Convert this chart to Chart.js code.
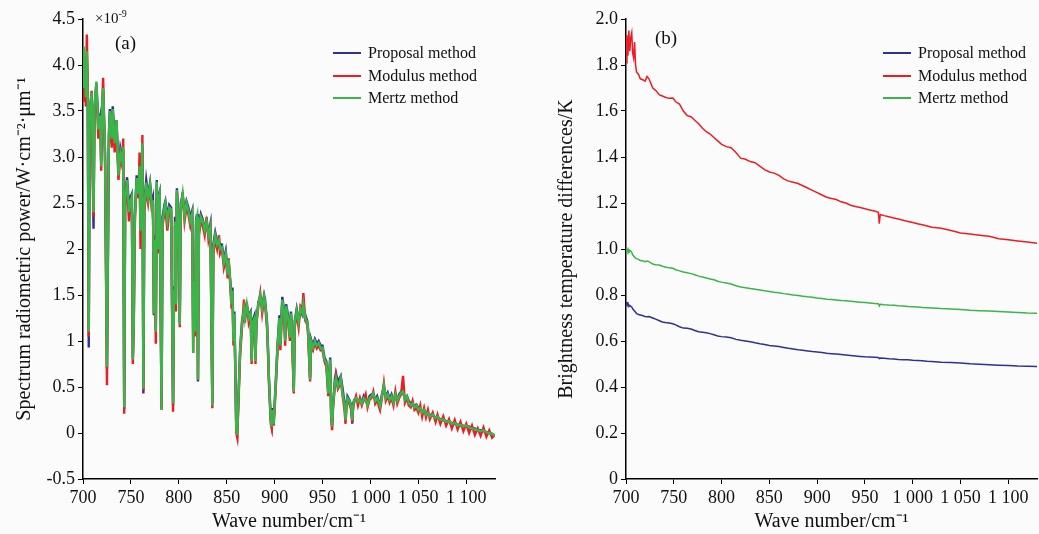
<!DOCTYPE html>
<html>
<head>
<meta charset="utf-8">
<script src="https://cdn.jsdelivr.net/npm/chart.js@4.4.1/dist/chart.umd.min.js"></script>
<style>
    body { margin: 0; background: #fbfbfb; font-family: "Liberation Serif", "Times New Roman", serif; color: #111; }
    #page { position: relative; width: 1039px; height: 534px; overflow: hidden; }
    canvas { position: absolute; top: 0; }
    #spectrum-chart { left: 0; }
    #difference-chart { left: 540px; }
    .note { position: absolute; white-space: nowrap; line-height: 1; }
    .legend { position: absolute; font-size: 16px; }
    .legend .row { display: flex; align-items: center; height: 22.5px; }
    .legend .swatch { width: 28px; height: 2px; margin-right: 7px; }
</style>
</head>
<body>
<div id="page">
    <canvas id="spectrum-chart" width="540" height="534"></canvas>
    <canvas id="difference-chart" width="499" height="534"></canvas>

    <div class="note" style="left:95px; top:9px; font-size:15px;">×10<sup style="font-size:10px; vertical-align:6px;">-9</sup></div>
    <div class="note" style="left:115px; top:33px; font-size:19px;">(a)</div>
    <div class="note" style="left:655px; top:28px; font-size:19px;">(b)</div>

    <div class="legend" style="left:333px; top:42px;">
        <div class="row"><span class="swatch" style="background:#2e3192"></span>Proposal method</div>
        <div class="row"><span class="swatch" style="background:#ed1c24"></span>Modulus method</div>
        <div class="row"><span class="swatch" style="background:#39b54a"></span>Mertz method</div>
    </div>
    <div class="legend" style="left:883px; top:42px;">
        <div class="row"><span class="swatch" style="background:#2e3192"></span>Proposal method</div>
        <div class="row"><span class="swatch" style="background:#ed1c24"></span>Modulus method</div>
        <div class="row"><span class="swatch" style="background:#39b54a"></span>Mertz method</div>
    </div>
</div>
<script>
// (a) spectrum, values in units of 1e-9
const spectrumWave = [
    700, 701, 702, 703, 704, 705, 706, 707, 709, 711,
    712, 714, 716, 718, 719, 720, 721, 723, 725, 727,
    728, 730, 731, 733, 735, 737, 739, 741, 742, 743,
    744, 746, 748, 749, 751, 752, 753, 754, 756, 758,
    759, 760, 761, 762, 763, 764, 766, 768, 770, 772,
    773, 774, 775, 776, 777, 778, 779, 780, 782, 783,
    785, 786, 788, 790, 792, 794, 795, 796, 797, 798,
    800, 801, 802, 804, 806, 808, 810, 812, 814, 815,
    816, 817, 818, 819, 820, 821, 823, 825, 827, 829,
    831, 833, 835, 836, 838, 840, 842, 843, 845, 847,
    849, 851, 852, 854, 855, 856, 857, 858, 860, 861,
    862, 864, 866, 868, 869, 871, 873, 875, 876, 877,
    879, 880, 881, 883, 885, 887, 889, 890, 892, 893,
    894, 896, 897, 898, 899, 901, 903, 905, 906, 908,
    910, 911, 912, 914, 916, 917, 918, 920, 921, 923,
    925, 927, 929, 930, 932, 934, 935, 937, 938, 940,
    942, 944, 946, 948, 950, 952, 954, 956, 957, 958,
    959, 960, 961, 963, 964, 966, 967, 969, 971, 973,
    974, 975, 976, 978, 980, 981, 982, 983, 985, 987,
    989, 991, 993, 995, 997, 999, 1001, 1003, 1005, 1007,
    1009, 1010, 1012, 1014, 1016, 1018, 1020, 1022, 1024, 1026,
    1028, 1030, 1032, 1034, 1036, 1038, 1040, 1042, 1044, 1046,
    1048, 1050, 1052, 1054, 1056, 1058, 1060, 1062, 1065, 1068,
    1070, 1073, 1076, 1079, 1082, 1085, 1088, 1091, 1094, 1097,
    1100, 1103, 1106, 1109, 1112, 1115, 1118, 1121, 1124, 1127, 1130,
];
const spectrumProposal = [
    4.05, 3.70, 4.00, 3.60, 4.10, 3.55, 0.93, 3.50, 3.68, 2.22,
    3.55, 3.80, 3.35, 3.45, 2.95, 3.55, 3.72, 3.05, 0.70, 3.25,
    3.52, 3.25, 3.55, 3.20, 3.40, 2.85, 3.10, 3.00, 3.08, 0.26,
    2.60, 2.78, 2.45, 2.55, 2.60, 0.82, 1.22, 2.35, 2.80, 2.62,
    2.88, 2.25, 2.72, 3.12, 0.43, 2.50, 2.75, 2.58, 2.72, 2.50,
    2.55, 1.28, 2.15, 1.12, 2.75, 1.98, 2.58, 2.62, 0.27, 2.35,
    2.48, 2.52, 2.35, 2.48, 2.45, 0.30, 1.58, 2.35, 1.42, 2.66,
    2.25, 1.20, 2.50, 2.58, 2.40, 2.52, 2.45, 2.35, 2.42, 1.05,
    1.66, 1.08, 2.32, 2.38, 0.56, 2.25, 2.38, 2.32, 2.22, 2.28,
    2.18, 2.28, 0.32, 2.05, 2.18, 2.08, 2.08, 2.05, 2.05, 1.88,
    1.98, 1.75, 1.85, 1.62, 1.42, 1.58, 1.05, 1.32, 0.05, 0.00,
    0.32, 0.92, 1.22, 1.32, 1.28, 1.38, 1.28, 1.32, 0.80, 1.22,
    1.28, 0.80, 1.22, 1.42, 1.48, 1.38, 1.50, 1.45, 1.22, 0.95,
    0.62, 0.15, 0.08, 0.27, 0.12, 0.52, 0.95, 1.28, 0.98, 1.48,
    1.32, 1.02, 1.40, 1.28, 1.06, 1.32, 1.18, 0.47, 1.22, 1.35,
    1.22, 1.32, 1.28, 1.38, 1.28, 1.22, 1.12, 0.60, 1.02, 0.95,
    1.02, 0.97, 1.00, 0.95, 0.95, 0.82, 0.78, 0.45, 0.66, 0.82,
    0.22, 0.08, 0.32, 0.60, 0.65, 0.55, 0.58, 0.62, 0.48, 0.32,
    0.16, 0.32, 0.40, 0.36, 0.30, 0.10, 0.32, 0.36, 0.37, 0.35,
    0.35, 0.34, 0.40, 0.35, 0.32, 0.40, 0.42, 0.42, 0.36, 0.40,
    0.33, 0.30, 0.42, 0.50, 0.40, 0.44, 0.37, 0.42, 0.35, 0.40,
    0.36, 0.42, 0.45, 0.44, 0.38, 0.40, 0.35, 0.32, 0.30, 0.30,
    0.31, 0.27, 0.26, 0.24, 0.24, 0.22, 0.21, 0.20, 0.19, 0.17,
    0.17, 0.15, 0.14, 0.13, 0.12, 0.11, 0.10, 0.09, 0.08, 0.08,
    0.07, 0.07, 0.05, 0.05, 0.03, 0.03, 0.02, 0.01, 0.00, -0.01, -0.03,
];
const spectrumModulus = [
    3.90, 3.60, 3.85, 3.55, 4.33, 3.70, 1.05, 3.45, 3.72, 2.35,
    3.50, 3.78, 3.20, 3.40, 2.85, 3.55, 3.86, 2.95, 0.52, 3.15,
    3.45, 3.10, 3.50, 3.05, 3.35, 2.75, 3.00, 2.90, 3.20, 0.21,
    2.45, 2.70, 2.30, 2.45, 2.50, 0.75, 1.17, 2.25, 2.75, 2.55,
    3.05, 2.00, 2.65, 3.24, 0.46, 2.40, 2.65, 2.50, 2.68, 2.40,
    2.50, 1.30, 2.00, 0.97, 2.70, 1.95, 2.50, 2.55, 0.25, 2.25,
    2.40, 2.45, 2.20, 2.40, 2.40, 0.23, 1.50, 2.25, 1.32, 2.62,
    2.15, 1.15, 2.40, 2.62, 2.30, 2.45, 2.38, 2.25, 2.35, 0.87,
    1.60, 1.05, 2.25, 2.30, 0.58, 2.15, 2.30, 2.25, 2.15, 2.35,
    2.10, 2.20, 0.27, 1.95, 2.10, 2.00, 2.15, 1.95, 2.00, 1.80,
    1.90, 1.68, 1.90, 1.55, 1.35, 1.50, 0.95, 1.25, 0.00, -0.05,
    0.25, 0.85, 1.15, 1.45, 1.20, 1.42, 1.20, 1.28, 0.75, 1.15,
    1.20, 0.75, 1.18, 1.38, 1.52, 1.30, 1.45, 1.40, 1.15, 0.90,
    0.55, 0.10, 0.05, 0.22, 0.08, 0.45, 0.90, 1.20, 0.90, 1.42,
    1.25, 0.95, 1.35, 1.20, 1.00, 1.28, 1.10, 0.43, 1.15, 1.30,
    1.15, 1.38, 1.35, 1.52, 1.22, 1.18, 1.05, 0.56, 0.95, 0.90,
    0.98, 0.92, 0.95, 0.90, 0.90, 0.78, 0.72, 0.40, 0.62, 0.75,
    0.15, 0.03, 0.28, 0.52, 0.62, 0.48, 0.50, 0.58, 0.40, 0.25,
    0.10, 0.28, 0.35, 0.32, 0.25, 0.12, 0.28, 0.33, 0.40, 0.30,
    0.38, 0.30, 0.36, 0.42, 0.28, 0.36, 0.38, 0.45, 0.32, 0.36,
    0.28, 0.25, 0.38, 0.54, 0.35, 0.40, 0.33, 0.38, 0.30, 0.45,
    0.32, 0.38, 0.42, 0.62, 0.33, 0.38, 0.30, 0.28, 0.35, 0.25,
    0.27, 0.22, 0.30, 0.18, 0.27, 0.17, 0.25, 0.15, 0.22, 0.12,
    0.20, 0.10, 0.18, 0.08, 0.15, 0.05, 0.14, 0.04, 0.12, 0.02,
    0.10, 0.00, 0.08, -0.02, 0.05, -0.03, 0.06, -0.04, 0.03, -0.05, -0.02,
];
const spectrumMertz = [
    4.20, 3.75, 4.05, 3.65, 4.15, 3.60, 1.10, 3.50, 3.70, 2.40,
    3.55, 3.82, 3.30, 3.45, 2.90, 3.58, 3.75, 3.05, 0.72, 3.20,
    3.50, 3.20, 3.52, 3.15, 3.40, 2.80, 3.05, 2.95, 3.11, 0.28,
    2.55, 2.75, 2.40, 2.50, 2.57, 0.80, 1.20, 2.30, 2.77, 2.60,
    2.90, 2.20, 2.70, 3.15, 0.48, 2.45, 2.72, 2.55, 2.70, 2.45,
    2.53, 1.30, 2.10, 1.10, 2.73, 2.00, 2.55, 2.60, 0.25, 2.30,
    2.45, 2.50, 2.30, 2.45, 2.43, 0.32, 1.55, 2.30, 1.40, 2.64,
    2.20, 1.18, 2.45, 2.60, 2.35, 2.50, 2.42, 2.30, 2.39, 0.87,
    1.65, 1.10, 2.30, 2.35, 0.58, 2.20, 2.35, 2.30, 2.20, 2.30,
    2.15, 2.25, 0.30, 2.00, 2.15, 2.05, 2.10, 2.00, 2.02, 1.85,
    1.95, 1.72, 1.88, 1.60, 1.40, 1.55, 1.00, 1.30, 0.05, -0.02,
    0.30, 0.90, 1.20, 1.35, 1.25, 1.40, 1.25, 1.30, 0.78, 1.20,
    1.25, 0.78, 1.20, 1.40, 1.50, 1.35, 1.48, 1.42, 1.20, 0.93,
    0.60, 0.15, 0.07, 0.25, 0.10, 0.50, 0.93, 1.25, 0.95, 1.45,
    1.30, 1.00, 1.38, 1.25, 1.04, 1.30, 1.15, 0.45, 1.20, 1.33,
    1.20, 1.35, 1.30, 1.40, 1.25, 1.20, 1.10, 0.58, 1.00, 0.93,
    1.00, 0.95, 0.98, 0.92, 0.93, 0.80, 0.76, 0.43, 0.65, 0.80,
    0.20, 0.07, 0.30, 0.55, 0.60, 0.50, 0.52, 0.60, 0.42, 0.30,
    0.14, 0.30, 0.38, 0.35, 0.28, 0.14, 0.30, 0.35, 0.38, 0.34,
    0.36, 0.32, 0.38, 0.36, 0.30, 0.38, 0.40, 0.43, 0.35, 0.38,
    0.32, 0.29, 0.40, 0.52, 0.38, 0.42, 0.36, 0.40, 0.33, 0.42,
    0.35, 0.40, 0.44, 0.45, 0.36, 0.40, 0.33, 0.30, 0.32, 0.28,
    0.30, 0.25, 0.27, 0.22, 0.25, 0.20, 0.22, 0.18, 0.20, 0.16,
    0.18, 0.14, 0.15, 0.12, 0.13, 0.10, 0.11, 0.08, 0.09, 0.07,
    0.08, 0.06, 0.05, 0.04, 0.03, 0.02, 0.03, 0.01, 0.00, -0.01, -0.03,
];

// (b) brightness temperature differences, K
const diffWave = [
    700, 701, 702, 703, 704, 705, 706, 707, 708, 709,
    710, 711, 713, 715, 718, 720, 722, 724, 726, 728,
    731, 735, 738, 741, 745, 749, 752, 756, 760, 764,
    768, 772, 776, 780, 784, 788, 792, 796, 800, 805,
    810, 815, 820, 825, 830, 835, 840, 845, 850, 855,
    860, 865, 870, 875, 880, 885, 890, 895, 900, 905,
    910, 915, 920, 925, 930, 935, 940, 945, 950, 955,
    960, 964, 965, 966, 970, 975, 980, 985, 990, 995,
    1000, 1005, 1010, 1015, 1020, 1030, 1040, 1050, 1060, 1070,
    1080, 1090, 1100, 1110, 1120, 1130,
];
const diffProposal = [
    0.77, 0.76, 0.765, 0.75, 0.755, 0.75, 0.748, 0.74, 0.735, 0.73,
    0.725, 0.72, 0.715, 0.713, 0.71, 0.706, 0.705, 0.706, 0.703, 0.70,
    0.695, 0.688, 0.683, 0.68, 0.678, 0.675, 0.67, 0.662, 0.656, 0.655,
    0.652, 0.646, 0.64, 0.638, 0.636, 0.632, 0.627, 0.622, 0.619, 0.617,
    0.614, 0.607, 0.603, 0.60, 0.597, 0.592, 0.588, 0.585, 0.58, 0.578,
    0.576, 0.572, 0.568, 0.565, 0.562, 0.56, 0.557, 0.554, 0.552, 0.55,
    0.547, 0.545, 0.543, 0.541, 0.539, 0.537, 0.535, 0.533, 0.531, 0.53,
    0.529, 0.528, 0.524, 0.526, 0.525, 0.523, 0.522, 0.52, 0.519, 0.518,
    0.516, 0.515, 0.514, 0.512, 0.511, 0.508, 0.506, 0.504, 0.501, 0.499,
    0.497, 0.495, 0.493, 0.491, 0.49, 0.489,
];
const diffModulus = [
    1.81, 1.93, 1.84, 1.95, 1.86, 1.92, 1.94, 1.85, 1.83, 1.90,
    1.80, 1.77, 1.76, 1.74, 1.735, 1.73, 1.75, 1.74, 1.72, 1.70,
    1.69, 1.67, 1.665, 1.66, 1.655, 1.656, 1.64, 1.63, 1.60, 1.58,
    1.575, 1.56, 1.545, 1.525, 1.51, 1.50, 1.485, 1.47, 1.455, 1.445,
    1.44, 1.42, 1.395, 1.39, 1.38, 1.375, 1.36, 1.345, 1.335, 1.33,
    1.32, 1.305, 1.295, 1.29, 1.285, 1.275, 1.265, 1.255, 1.245, 1.235,
    1.225, 1.22, 1.215, 1.205, 1.20, 1.19, 1.185, 1.18, 1.175, 1.17,
    1.165, 1.16, 1.11, 1.15, 1.145, 1.14, 1.135, 1.13, 1.125, 1.12,
    1.115, 1.11, 1.105, 1.10, 1.095, 1.09, 1.08, 1.07, 1.065, 1.06,
    1.055, 1.045, 1.04, 1.035, 1.03, 1.025,
];
const diffMertz = [
    1.00, 0.99, 1.00, 0.985, 0.995, 0.99, 0.985, 0.975, 0.97, 0.965,
    0.96, 0.958, 0.955, 0.95, 0.948, 0.945, 0.948, 0.945, 0.94, 0.935,
    0.932, 0.93, 0.925, 0.922, 0.918, 0.916, 0.91, 0.905, 0.90, 0.897,
    0.893, 0.888, 0.882, 0.878, 0.874, 0.87, 0.866, 0.86, 0.856, 0.852,
    0.848, 0.84, 0.835, 0.832, 0.828, 0.825, 0.822, 0.818, 0.815, 0.812,
    0.81, 0.806, 0.803, 0.80, 0.798, 0.795, 0.792, 0.79, 0.787, 0.785,
    0.782, 0.78, 0.778, 0.776, 0.775, 0.773, 0.771, 0.769, 0.767, 0.765,
    0.763, 0.762, 0.752, 0.76, 0.758, 0.756, 0.755, 0.753, 0.752, 0.75,
    0.749, 0.748, 0.746, 0.745, 0.744, 0.741, 0.739, 0.737, 0.734, 0.732,
    0.73, 0.728, 0.726, 0.724, 0.722, 0.721,
];

const waveTicks = [700, 750, 800, 850, 900, 950, 1000, 1050, 1100];
const waveTickLabels = ["700", "750", "800", "850", "900", "950", "1 000", "1 050", "1 100"];
const spectrumTicks = [-0.5, 0, 0.5, 1, 1.5, 2, 2.5, 3, 3.5, 4, 4.5];
const spectrumTickLabels = ["-0.5", "0", "0.5", "1", "1.5", "2", "2.5", "3.0", "3.5", "4.0", "4.5"];
const diffTicks = [0, 0.2, 0.4, 0.6, 0.8, 1, 1.2, 1.4, 1.6, 1.8, 2];
const diffTickLabels = ["0", "0.2", "0.4", "0.6", "0.8", "1.0", "1.2", "1.4", "1.6", "1.8", "2.0"];

const SERIF = '"Liberation Serif", "Times New Roman", serif';
const COLORS = { proposal: "#2e3192", modulus: "#ed1c24", mertz: "#39b54a" };

function toPoints(xs, ys) {
    return xs.map((x, i) => ({ x, y: ys[i] }));
}

function axisLine(tickValues, tickLabels, extra) {
    return {
        type: "linear",
        afterBuildTicks(scale) {
            scale.ticks = tickValues.map((value) => ({ value }));
        },
        grid: { drawOnChartArea: false, drawTicks: true, tickLength: 5, tickColor: "#000", tickWidth: 1 },
        border: { display: true, color: "#000", width: 1.5 },
        ticks: {
            autoSkip: false,
            maxRotation: 0,
            color: "#111",
            font: { family: SERIF, size: 18 },
            callback(value, index) {
                return tickLabels[index];
            },
        },
        ...extra,
    };
}

function drawPanel(canvas, wave, series, yOpts) {
    new Chart(canvas, {
        type: "line",
        data: {
            datasets: [
                { label: "Proposal method", data: toPoints(wave, series.proposal), borderColor: COLORS.proposal, order: 3 },
                { label: "Modulus method", data: toPoints(wave, series.modulus), borderColor: COLORS.modulus, order: 2 },
                { label: "Mertz method", data: toPoints(wave, series.mertz), borderColor: COLORS.mertz, order: 1 },
            ].map((d) => ({ ...d, borderWidth: yOpts.lineWidth, pointRadius: 0, tension: 0, fill: false })),
        },
        options: {
            responsive: false,
            animation: false,
            layout: { padding: { top: 19, right: yOpts.padRight, bottom: 0, left: 0 } },
            plugins: { legend: { display: false }, tooltip: { enabled: false } },
            scales: {
                x: axisLine(waveTicks, waveTickLabels, {
                    min: 700,
                    max: 1130,
                    afterFit(scale) {
                        scale.height = 55;
                    },
                    title: {
                        display: true,
                        text: "Wave number/cm⁻¹",
                        color: "#111",
                        font: { family: SERIF, size: 20 },
                        padding: { top: 0, bottom: 0 },
                    },
                }),
                y: axisLine(yOpts.ticks, yOpts.labels, {
                    min: yOpts.min,
                    max: yOpts.max,
                    afterFit(scale) {
                        scale.width = yOpts.width;
                    },
                    title: {
                        display: true,
                        text: yOpts.title,
                        color: "#111",
                        font: { family: SERIF, size: 20 },
                        padding: { top: yOpts.titlePad, bottom: 0 },
                    },
                }),
            },
        },
    });
}

drawPanel(
    document.getElementById("spectrum-chart"),
    spectrumWave,
    { proposal: spectrumProposal, modulus: spectrumModulus, mertz: spectrumMertz },
    {
        min: -0.5, max: 4.5, ticks: spectrumTicks, labels: spectrumTickLabels,
        width: 83, padRight: 45, titlePad: 13, lineWidth: 2.4,
        title: "Spectrum radiometric power/W·cm⁻²·μm⁻¹",
    }
);

drawPanel(
    document.getElementById("difference-chart"),
    diffWave,
    { proposal: diffProposal, modulus: diffModulus, mertz: diffMertz },
    {
        min: 0, max: 2, ticks: diffTicks, labels: diffTickLabels,
        width: 86, padRight: 2, titlePad: 15, lineWidth: 1.5,
        title: "Brightness temperature differences/K",
    }
);
</script>
</body>
</html>
